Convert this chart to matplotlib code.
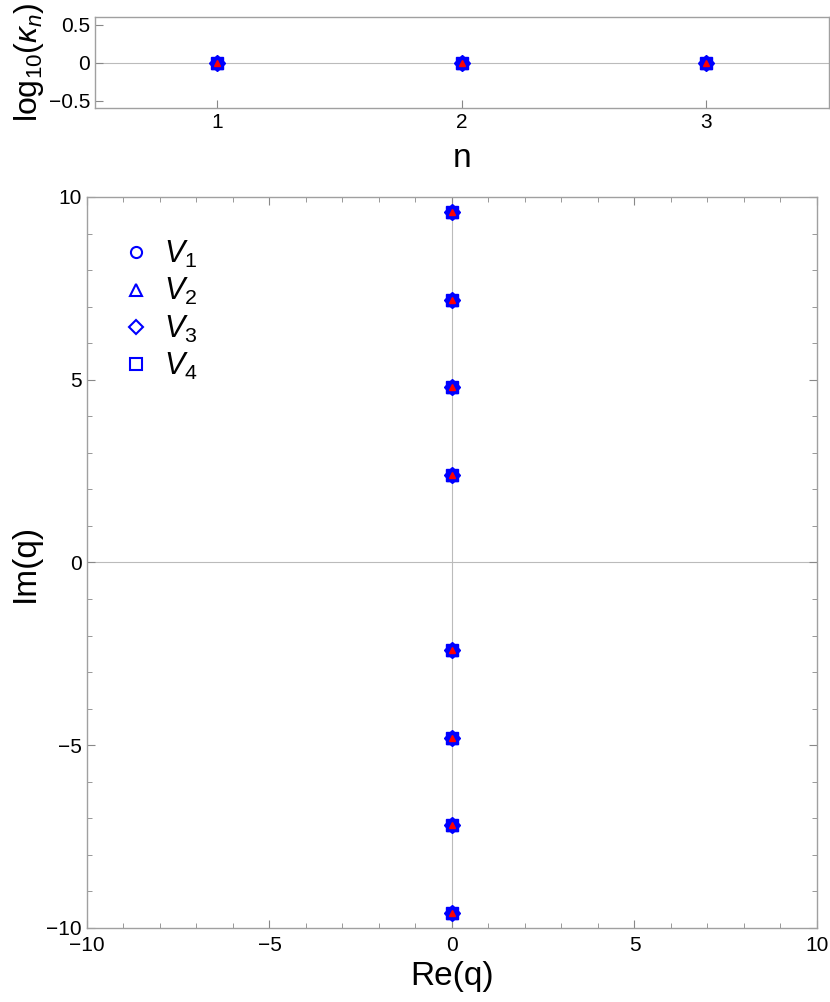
import numpy as np
import matplotlib.pyplot as plt
from matplotlib.lines import Line2D

plt.rcParams['font.family'] = ['Liberation Sans', 'DejaVu Sans']
plt.rcParams['mathtext.fontset'] = 'custom'
plt.rcParams['mathtext.it'] = 'Liberation Sans:italic'
plt.rcParams['mathtext.rm'] = 'Liberation Sans'

# top panel: log10(kappa_n)
n_vals = [1, 2, 3]
log_kappa = [0.0, 0.0, 0.0]

# main panel: poles in the complex q plane
re_q = [0, 0, 0, 0, 0, 0, 0, 0]
im_q = [9.58, 7.19, 4.79, 2.395, -2.395, -4.79, -7.19, -9.58]

marker_list = ['o', '^', 'D', 's']
legend_labels = ['$V_1$', '$V_2$', '$V_3$', '$V_4$']
frame_col = '#a0a0a0'
blue = '#0000ff'

fig = plt.figure(figsize=(8.3, 10.02), dpi=100)
ax1 = fig.add_axes([0.1145, 0.892, 0.884, 0.0908])
ax2 = fig.add_axes([0.1048, 0.0739, 0.8795, 0.7295])

def style(ax):
    for s in ax.spines.values():
        s.set_color(frame_col)
        s.set_linewidth(1.0)
    ax.tick_params(which='both', direction='in', color='#888888', labelsize=15, top=True, right=True)
    ax.tick_params(which='major', length=6)
    ax.tick_params(which='minor', length=3.5)

def draw_points(ax, x, y):
    for m in marker_list:
        ms = 8 if m == 'D' else 9
        ax.plot(x, y, ls='none', marker=m, ms=ms, color=blue, mec=blue, zorder=3)
    ax.plot(x, y, ls='none', marker='^', ms=5, color='red', mec='red', zorder=4)

# top panel
ax1.axhline(0, color='#bbbbbb', lw=0.8, zorder=1)
draw_points(ax1, n_vals, log_kappa)
ax1.set_xlim(0.5, 3.5)
ax1.set_ylim(-0.6, 0.6)
ax1.set_xticks([1, 2, 3])
ax1.set_yticks([-0.5, 0, 0.5])
ax1.set_yticklabels(['\u22120.5', '0', '0.5'])
style(ax1)
ax1.tick_params(top=False, right=False)
ax1.set_xlabel('n', fontsize=24, labelpad=8)
ax1.set_ylabel('log$_{10}$($\\kappa_n$)', fontsize=23, labelpad=2)

# main panel
ax2.axhline(0, color='#bbbbbb', lw=0.8, zorder=1)
ax2.axvline(0, color='#bbbbbb', lw=0.8, zorder=1)
draw_points(ax2, re_q, im_q)
ax2.set_xlim(-10, 10)
ax2.set_ylim(-10, 10)
ax2.set_xticks([-10, -5, 0, 5, 10])
ax2.set_yticks([-10, -5, 0, 5, 10])
ax2.set_xticklabels(['\u221210', '\u22125', '0', '5', '10'])
ax2.set_yticklabels(['\u221210', '\u22125', '0', '5', '10'])
ax2.set_xticks(np.arange(-10, 11, 1), minor=True)
ax2.set_yticks(np.arange(-10, 11, 1), minor=True)
style(ax2)
ax2.tick_params(axis='x', pad=6)
ax2.set_xlabel('Re(q)', fontsize=24, labelpad=4)
ax2.set_ylabel('Im(q)', fontsize=24, labelpad=4)

handles = [Line2D([], [], ls='none', marker=m, ms=8 if m != 'D' else 7, mfc='none', mec=blue, mew=1.5)
           for m in marker_list]
ax2.legend(handles, legend_labels, loc='upper left', bbox_to_anchor=(0.005, 0.98),
           frameon=False, fontsize=22, handletextpad=0.3, labelspacing=0.2, handlelength=1.2)

fig.savefig('out.png', dpi=100)
